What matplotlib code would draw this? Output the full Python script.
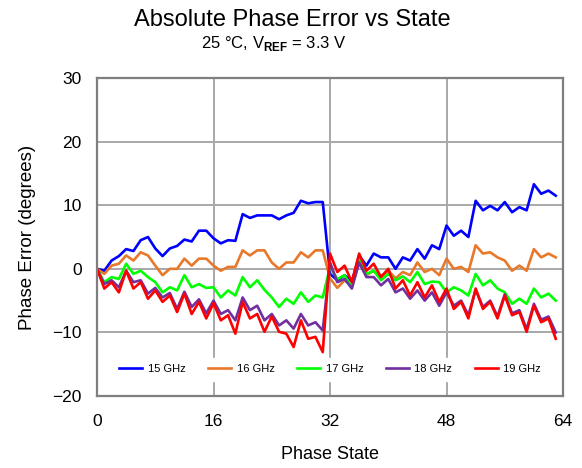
import numpy as np
import matplotlib
matplotlib.use("Agg")
import matplotlib.pyplot as plt

plt.rcParams['font.family'] = ['Liberation Sans', 'DejaVu Sans']
plt.rcParams['mathtext.fontset'] = 'custom'
plt.rcParams['mathtext.rm'] = 'Liberation Sans'
plt.rcParams['mathtext.bf'] = 'Liberation Sans:bold'

# phase states 0..63
states = np.arange(64)

ghz15 = [0, -0.3, 1.3, 2.0, 3.1, 2.8, 4.5, 5.0, 3.2, 2.0, 3.2, 3.6, 4.6, 4.3, 6.0, 6.0,
         4.8, 4.0, 4.5, 4.4, 8.6, 8.0, 8.4, 8.4, 8.4, 7.8, 8.4, 8.8, 10.7, 10.3, 10.5, 10.5,
         -0.8, -1.8, -1.0, -2.0, 2.1, 0.5, 2.4, 1.8, 1.8, 0.0, 1.8, 1.3, 3.1, 1.6, 3.7, 3.1,
         6.8, 5.2, 6.0, 5.0, 10.7, 9.2, 9.9, 9.2, 10.5, 8.9, 9.7, 9.2, 13.3, 11.8, 12.3, 11.5]
ghz16 = [0, -0.8, 0.5, 0.8, 2.1, 1.3, 2.6, 2.1, 0.5, -1.0, 0.0, 0.0, 1.6, 0.5, 1.6, 1.6,
         0.5, -0.3, 0.3, 0.3, 2.9, 2.1, 2.9, 2.9, 1.0, 0.0, 1.0, 1.0, 2.6, 1.8, 2.9, 2.9,
         -1.5, -3.0, -1.8, -2.6, 1.0, -1.0, -0.3, -1.2, -0.3, -1.5, -0.5, -1.0, 1.0, -0.5, 0.0, -1.0,
         1.6, 0.0, 0.3, -0.5, 3.7, 2.4, 2.6, 1.8, 1.3, -0.3, 0.5, -0.3, 3.1, 1.8, 2.4, 1.8]
ghz17 = [0, -2.1, -1.3, -1.6, 0.8, -0.8, -0.3, -1.3, -2.1, -3.7, -2.9, -3.4, -1.0, -2.9, -2.4, -3.0,
         -2.9, -4.5, -3.4, -4.2, -1.3, -2.9, -1.8, -3.3, -4.5, -6.0, -4.7, -5.5, -3.7, -5.2, -4.2, -4.5,
         0.3, -1.6, -1.0, -2.9, 1.6, -0.8, -0.3, -1.8, -0.8, -1.8, -1.2, -2.1, -0.5, -2.4, -2.0, -2.1,
         -3.7, -2.9, -3.4, -4.2, -0.8, -2.6, -1.8, -3.1, -3.7, -5.5, -4.7, -5.5, -3.1, -4.5, -3.9, -5.0]
ghz18 = [0, -2.4, -1.8, -2.9, -0.3, -2.1, -1.8, -3.9, -3.0, -4.5, -3.8, -6.3, -3.6, -6.0, -4.8, -7.0,
         -5.0, -7.1, -6.5, -8.1, -4.5, -6.5, -5.8, -8.1, -7.1, -8.9, -8.1, -9.4, -7.1, -8.9, -8.4, -9.7,
         1.0, -2.1, -1.6, -3.1, 1.0, -1.3, -1.3, -2.6, -1.6, -3.7, -3.1, -4.7, -3.4, -5.0, -3.7, -5.8,
         -3.7, -5.8, -5.0, -7.3, -3.3, -6.0, -5.0, -7.5, -4.0, -7.0, -6.5, -9.5, -5.5, -8.0, -7.5, -10.0]
ghz19 = [0, -3.1, -2.1, -3.7, -0.3, -3.1, -2.1, -4.7, -3.4, -5.2, -4.2, -6.8, -3.9, -7.1, -5.2, -7.8,
         -5.4, -8.1, -7.3, -10.2, -5.2, -7.8, -7.1, -9.9, -7.5, -9.9, -10.2, -12.3, -8.1, -11.0, -10.7, -13.1,
         2.4, -0.5, 0.5, -2.1, 2.4, -0.3, 0.8, -1.3, 0.0, -3.1, -1.8, -4.2, -2.1, -4.5, -2.6, -5.2,
         -3.1, -6.3, -5.2, -7.8, -3.1, -6.3, -5.2, -7.8, -4.2, -7.3, -6.8, -9.9, -5.8, -8.4, -7.8, -11.0]

labels = ['15 GHz', '16 GHz', '17 GHz', '18 GHz', '19 GHz']
colors = ['#0000ff', '#e8782a', '#00ff00', '#7030a0', '#ff0000']
series = [ghz15, ghz16, ghz17, ghz18, ghz19]

fig = plt.figure(figsize=(5.82, 4.68), dpi=100)
ax = fig.add_axes([0.1667, 0.1538, 0.8007, 0.6795])

for vals, lab, col in zip(series, labels, colors):
    ax.plot(states, vals, color=col, lw=1.9, label=lab)

ax.set_xlim(0, 64)
ax.set_ylim(-20, 30)
ax.set_xticks([0, 16, 32, 48, 64])
ax.set_yticks([-20, -10, 0, 10, 20, 30])
ax.grid(True, color='#a8a8a8', lw=1.4)
ax.set_axisbelow(True)
for s in ax.spines.values():
    s.set_color('#7f7f7f')
    s.set_linewidth(1.6)
ax.tick_params(length=0, labelsize=12.5, pad=11)
ax.tick_params(axis='x', pad=13)

ax.set_xlabel('Phase State', fontsize=13, labelpad=12)
ax.set_ylabel('Phase Error (degrees)', fontsize=13.5, labelpad=12)

fig.text(0.502, 0.958, 'Absolute Phase Error vs State', ha='center', va='center', fontsize=17)
fig.text(0.47, 0.908, r'25 °C, V$_{\mathbf{REF}}$ = 3.3 V', ha='center', va='center', fontsize=12)

leg = ax.legend(loc='lower center', bbox_to_anchor=(0.5, 0.03), ncol=5, fontsize=8,
                frameon=True, fancybox=False, edgecolor='white', facecolor='white',
                framealpha=1, handlelength=2.1, columnspacing=2.0, handletextpad=0.5,
                borderpad=0.6)

fig.savefig('out.png', dpi=100)
